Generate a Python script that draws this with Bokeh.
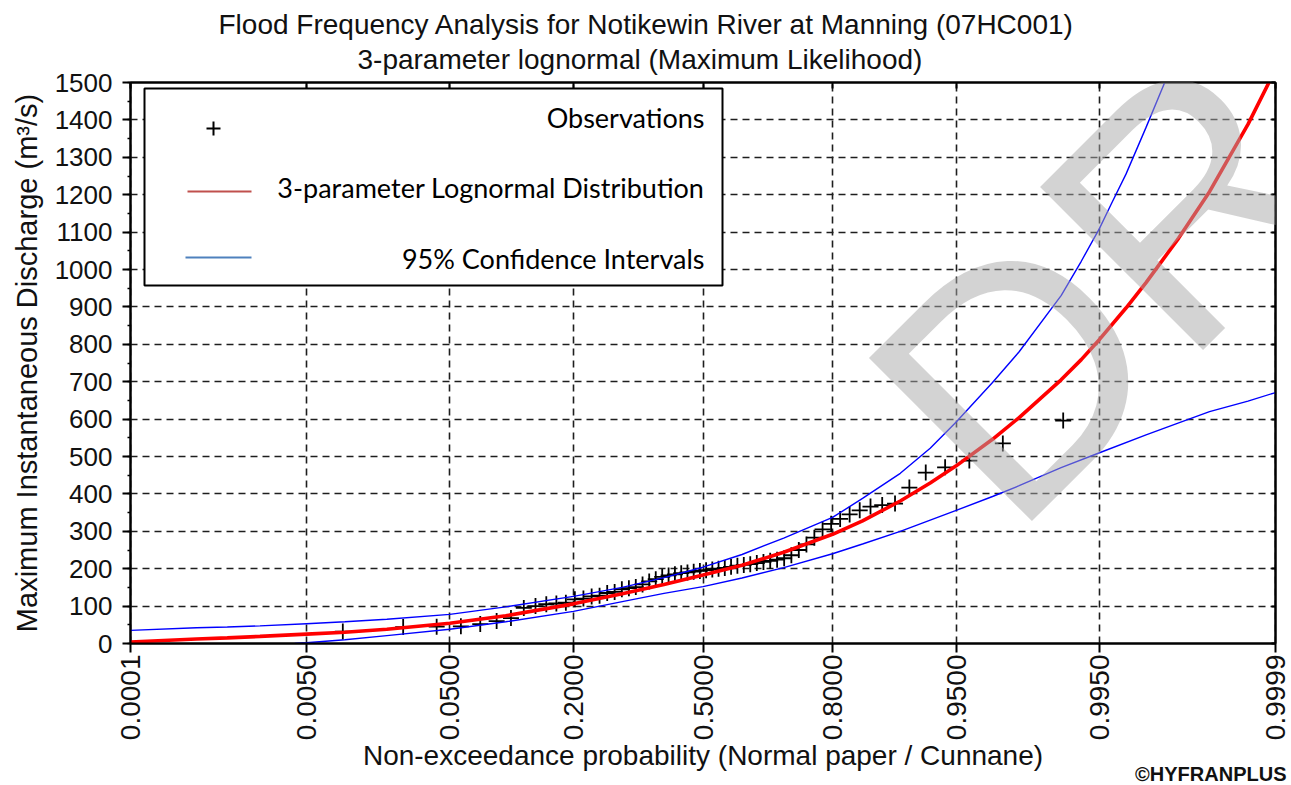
import math
from statistics import NormalDist
from bokeh.plotting import figure
from bokeh.models import (Range1d, FixedTicker, SingleIntervalTicker, LinearAxis, Label, Title,
                          BoxAnnotation, Arrow, ColumnDataSource, CustomJSTickFormatter)
from bokeh.embed import file_html
from bokeh.resources import INLINE

# ---------------- data ----------------
title_line1 = "Flood Frequency Analysis for Notikewin River at Manning (07HC001)"
title_line2 = "3-parameter lognormal (Maximum Likelihood)"
x_label = "Non-exceedance probability (Normal paper / Cunnane)"
y_label = "Maximum Instantaneous Discharge (m³/s)"
legend_labels = ["Observations", "3-parameter Lognormal Distribution", "95% Confidence Intervals"]
credit = "©HYFRANPLUS"
watermark = "DRAFT"

tick_probs = [0.0001, 0.005, 0.05, 0.2, 0.5, 0.8, 0.95, 0.995, 0.9999]
tick_labels = ["0.0001", "0.0050", "0.0500", "0.2000", "0.5000", "0.8000", "0.9500", "0.9950", "0.9999"]

# observed annual maxima (m3/s), sorted ascending; plotted at Cunnane positions
obs_discharge = [32, 44, 45, 46, 52, 60, 68, 95, 100, 105,
                 107, 109, 118, 120, 126, 128, 135, 138, 145, 148,
                 151, 158, 166, 172, 178, 182, 185, 188, 190, 192,
                 194, 196, 198, 200, 202, 205, 208, 210, 212, 215,
                 218, 221, 224, 228, 236, 250, 265, 283, 305, 320,
                 333, 345, 356, 366, 370, 374, 417, 457, 471, 489,
                 535, 596]

# fitted 3-parameter lognormal quantiles
fit_probs = [0.0001, 0.0005, 0.001, 0.002, 0.005, 0.01, 0.02, 0.05, 0.1, 0.2, 0.3, 0.4, 0.5,
             0.6, 0.7, 0.8, 0.85, 0.9, 0.93, 0.95, 0.97, 0.98, 0.99, 0.993, 0.995, 0.997,
             0.998, 0.999, 0.9995, 0.9998, 0.9999]
fit_discharge = [4, 12, 15, 19, 25, 30, 38, 54, 74, 106, 133, 158, 183,
                 209, 244, 292, 328, 381, 429, 475, 546, 604, 705, 759, 813, 897,
                 965, 1084, 1208, 1388, 1535]

# 95% confidence limits
upper_probs = [0.0001, 0.0005, 0.001, 0.002, 0.005, 0.01, 0.02, 0.05, 0.1, 0.2, 0.3, 0.4, 0.5,
               0.6, 0.7, 0.8, 0.85, 0.9, 0.93, 0.95, 0.97, 0.98, 0.99, 0.993, 0.995, 0.996,
               0.997, 0.998, 0.999]
upper_discharge = [35, 42, 44, 47, 53, 58, 65, 78, 98, 126, 150, 176, 204,
                   238, 282, 337, 388, 455, 522, 592, 698, 780, 930, 1022, 1110, 1175,
                   1255, 1380, 1590]
lower_probs = [0.004, 0.005, 0.01, 0.02, 0.05, 0.1, 0.2, 0.3, 0.4, 0.5, 0.6, 0.7, 0.8,
               0.85, 0.9, 0.95, 0.97, 0.98, 0.99, 0.995, 0.998, 0.999, 0.9995, 0.9998, 0.9999]
lower_discharge = [0, 2, 10, 21, 38, 58, 86, 112, 134, 152, 175, 203, 240,
                   266, 300, 356, 393, 422, 470, 510, 558, 590, 620, 648, 671]

# ---------------- scale (normal probability paper) ----------------
nd = NormalDist()
def zq(p):
    return nd.inv_cdf(p)

n = len(obs_discharge)
obs_probs = [(i - 0.4) / (n + 0.2) for i in range(1, n + 1)]   # Cunnane plotting positions

obs_src = ColumnDataSource(dict(x=[zq(p) for p in obs_probs], y=obs_discharge))
fit_src = ColumnDataSource(dict(x=[zq(p) for p in fit_probs], y=fit_discharge))
up_src = ColumnDataSource(dict(x=[zq(p) for p in upper_probs], y=upper_discharge))
lo_src = ColumnDataSource(dict(x=[zq(p) for p in lower_probs], y=lower_discharge))

FONT = "Liberation Sans"
TXT = "#111111"

x0, x1 = zq(tick_probs[0]), zq(tick_probs[-1])
p = figure(width=1291, height=785, title=None,
           x_range=Range1d(x0 - 1e-9, x1 + 1e-9), y_range=Range1d(0, 1500),
           output_backend="svg", toolbar_location=None,
           min_border_left=130, min_border_right=16, min_border_top=82, min_border_bottom=142,
           background_fill_color="white", border_fill_color="white")
p.outline_line_color = "black"
p.outline_line_width = 2

xticks = [zq(t) for t in tick_probs]
p.xaxis.ticker = FixedTicker(ticks=xticks, minor_ticks=[])
p.xaxis.major_label_overrides = {t: s for t, s in zip(xticks, tick_labels)}
p.xaxis.major_label_orientation = math.pi / 2
p.yaxis.ticker = SingleIntervalTicker(interval=100, num_minor_ticks=2)

for ax in (p.xaxis[0], p.yaxis[0]):
    ax.axis_line_color = "black"
    ax.axis_line_width = 2
    ax.major_tick_line_color = "black"
    ax.major_tick_line_width = 2
    ax.major_tick_in = 0
    ax.minor_tick_line_color = "black"
    ax.minor_tick_line_width = 1.5
    ax.minor_tick_in = 0
    ax.major_label_text_font = FONT
    ax.major_label_text_color = TXT
    ax.axis_label_text_font = FONT
    ax.axis_label_text_font_style = "normal"
    ax.axis_label_text_color = TXT

p.xaxis.major_label_text_font_size = "28px"
p.xaxis.major_tick_out = 9
p.xaxis.major_label_standoff = 2
p.yaxis.major_label_text_font_size = "26px"
p.yaxis.major_tick_out = 8
p.yaxis.minor_tick_out = 3
p.yaxis.major_label_standoff = 10
p.yaxis.axis_label = y_label
p.yaxis.axis_label_text_font_size = "29px"
p.yaxis.axis_label_standoff = 9

blank = CustomJSTickFormatter(code="return ''")
top_ax = LinearAxis(ticker=FixedTicker(ticks=xticks, minor_ticks=[]), formatter=blank,
                    major_tick_in=6, major_tick_out=0, major_tick_line_width=2,
                    axis_line_width=2, major_label_standoff=0, axis_label_standoff=0,
                    major_label_text_font_size="1px")
right_ax = LinearAxis(ticker=SingleIntervalTicker(interval=100, num_minor_ticks=0), formatter=blank,
                      major_tick_in=4, major_tick_out=0, major_tick_line_width=2,
                      axis_line_width=2, major_label_standoff=0, axis_label_standoff=0,
                      major_label_text_font_size="1px")
p.add_layout(top_ax, "above")
p.add_layout(right_ax, "right")

for g in (p.xgrid[0], p.ygrid[0]):
    g.grid_line_color = "#1e1e1e"
    g.grid_line_dash = "7 5"
    g.grid_line_width = 1.6

# ---------------- titles (stacked in the side panels) ----------------
def make_title(text, size, standoff, fallback, **kw):
    try:
        return Title(text=text, text_font=FONT, text_font_size=size, text_color=TXT,
                     standoff=standoff, **kw)
    except Exception:
        return Title(text=text, text_font=FONT, text_font_size=size, text_color=TXT,
                     standoff=fallback, **kw)

p.add_layout(make_title(title_line2, "28px", 13, 13, align="left", offset=227,
                        vertical_align="middle", text_font_style="normal"), "above")
p.add_layout(make_title(title_line1, "28px", -7, 0, align="left", offset=88,
                        vertical_align="bottom", text_font_style="normal"), "above")
p.add_layout(make_title(x_label, "28px", -8, 2, align="center",
                        vertical_align="top", text_font_style="normal"), "below")
p.add_layout(make_title(credit, "20px", -11, 0, align="right", offset=-11,
                        vertical_align="top", text_font_style="bold"), "below")

# ---------------- series ----------------
p.scatter("x", "y", source=obs_src, marker="cross", size=16, line_color="black", line_width=1.8)
p.line("x", "y", source=up_src, line_color="#0000ff", line_width=1.4)
p.line("x", "y", source=lo_src, line_color="#0000ff", line_width=1.4)
p.line("x", "y", source=fit_src, line_color="#ff0000", line_width=3.6)

# ---------------- legend (drawn by hand) ----------------
p.add_layout(BoxAnnotation(left=14, right=592, top=555, bottom=358,
                           left_units="screen", right_units="screen",
                           top_units="screen", bottom_units="screen",
                           fill_color="white", fill_alpha=1.0,
                           line_color="black", line_width=2, line_alpha=1.0))
p.add_layout(Arrow(start=None, end=None, x_start=76, y_start=515, x_end=90, y_end=515,
                   start_units="screen", end_units="screen", line_color="black", line_width=2))
p.add_layout(Arrow(start=None, end=None, x_start=83, y_start=508, x_end=83, y_end=522,
                   start_units="screen", end_units="screen", line_color="black", line_width=2))
p.add_layout(Arrow(start=None, end=None, x_start=57, y_start=452, x_end=121, y_end=452,
                   start_units="screen", end_units="screen", line_color="#c0504d", line_width=2))
p.add_layout(Arrow(start=None, end=None, x_start=55, y_start=386, x_end=121, y_end=386,
                   start_units="screen", end_units="screen", line_color="#4f81bd", line_width=2))
for txt, yy in zip(legend_labels, [526, 456, 385]):
    p.add_layout(Label(x=574, y=yy, x_units="screen", y_units="screen", text=txt,
                       text_align="right", text_baseline="middle",
                       text_font="Lato", text_font_size="27px", text_color="black"))

# watermark
p.add_layout(Label(x=800, y=185, x_units="screen", y_units="screen", text=watermark,
                   angle=math.pi / 4, text_align="left", text_baseline="alphabetic",
                   text_font=FONT, text_font_size="335px", text_color="#a8a8a8", text_alpha=0.5))

open("out.html", "w").write(file_html(p, INLINE))
